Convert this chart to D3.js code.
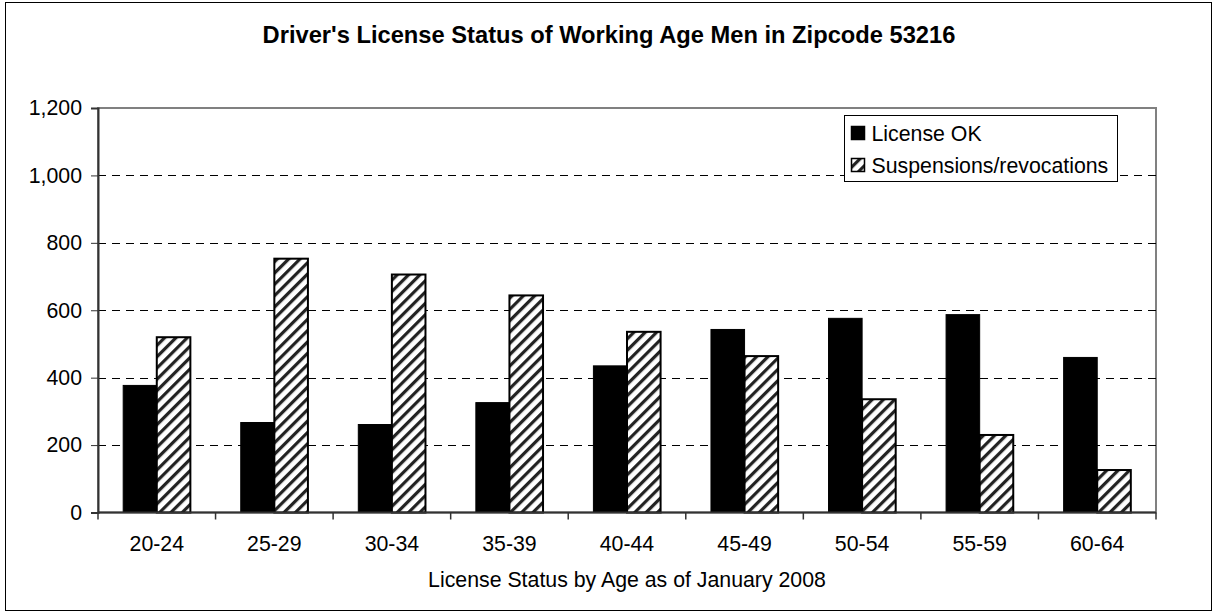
<!DOCTYPE html>
<html>
<head>
<meta charset="utf-8">
<script src="https://cdn.jsdelivr.net/npm/d3@7"></script>
<style>
  html, body { margin: 0; padding: 0; background: #fff; }
  svg { display: block; font-family: "Liberation Sans", Arial, sans-serif; }
</style>
</head>
<body>
<svg id="chart" width="1215" height="613"></svg>
<script>
  var ageGroups = ['20-24', '25-29', '30-34', '35-39', '40-44', '45-49', '50-54', '55-59', '60-64'];
  var licenseOk = [377, 267, 261, 326, 435, 543, 576, 587, 460];
  var suspensions = [520, 753, 706, 644, 536, 464, 336, 230, 126];
  var seriesNames = ['License OK', 'Suspensions/revocations'];
  var yTicks = [0, 200, 400, 600, 800, 1000, 1200];

  var svg = d3.select('#chart');
  var margin = { top: 108, right: 59, bottom: 100, left: 98 };
  var W = 1215, H = 613;
  var w = W - margin.left - margin.right;
  var h = 512.5 - margin.top;
  var fs = '21.3px';

  // hatch pattern for the second series
  var defs = svg.append('defs');
  var pat = defs.append('pattern')
    .attr('id', 'hatch')
    .attr('patternUnits', 'userSpaceOnUse')
    .attr('width', 8).attr('height', 8)
    .attr('patternTransform', 'rotate(45)');
  pat.append('rect').attr('width', 8).attr('height', 8).attr('fill', '#fff');
  pat.append('rect').attr('x', 0).attr('width', 3.2).attr('height', 8).attr('fill', '#222');

  // outer frame
  svg.append('rect')
    .attr('x', 5.5).attr('y', 2.5)
    .attr('width', W - 9).attr('height', H - 5)
    .attr('fill', '#fff').attr('stroke', '#000').attr('stroke-width', 1);

  svg.append('text')
    .attr('x', 609).attr('y', 43)
    .attr('text-anchor', 'middle')
    .style('font-size', '23.7px')
    .style('font-weight', 'bold')
    .text("Driver's License Status of Working Age Men in Zipcode 53216");

  var g = svg.append('g').attr('transform', 'translate(' + margin.left + ',' + margin.top + ')');

  var x0 = d3.scaleBand().domain(ageGroups).range([0, w]).paddingInner(0).paddingOuter(0);
  var barW = x0.bandwidth() / 3.5;
  var y = d3.scaleLinear().domain([0, 1200]).range([h, 0]);

  // plot border
  g.append('rect')
    .attr('x', 0).attr('y', 0).attr('width', w).attr('height', h)
    .attr('fill', 'none').attr('stroke', '#808080').attr('stroke-width', 2);

  // gridlines
  g.append('g').selectAll('line')
    .data(yTicks.filter(function (t) { return t > 0 && t < 1200; }))
    .enter().append('line')
    .attr('x1', 0).attr('x2', w)
    .attr('y1', function (d) { return Math.round(y(d)) + 0.5; })
    .attr('y2', function (d) { return Math.round(y(d)) + 0.5; })
    .attr('stroke', '#000').attr('stroke-width', 1)
    .attr('stroke-dasharray', '8,6');

  // bars
  ageGroups.forEach(function (grp, i) {
    var cx = x0(grp) + x0.bandwidth() / 2;
    g.append('rect')
      .attr('x', cx - barW).attr('y', y(licenseOk[i]))
      .attr('width', barW).attr('height', h - y(licenseOk[i]))
      .attr('fill', '#000').attr('stroke', '#000').attr('stroke-width', 1);
    g.append('rect')
      .attr('x', cx).attr('y', y(suspensions[i]))
      .attr('width', barW).attr('height', h - y(suspensions[i]))
      .attr('fill', 'url(#hatch)').attr('stroke', '#000').attr('stroke-width', 2);
  });

  // y axis
  var yAxis = g.append('g')
    .call(d3.axisLeft(y).tickValues(yTicks).tickSize(7).tickPadding(9).tickFormat(d3.format(',')));
  yAxis.select('.domain').attr('stroke', '#333').attr('stroke-width', 2);
  yAxis.selectAll('.tick line').attr('stroke', '#333');
  yAxis.selectAll('text').style('font-size', fs).attr('fill', '#000').style('font-family', 'Liberation Sans, Arial, sans-serif');

  // x axis with boundary ticks
  var xg = g.append('g').attr('transform', 'translate(0,' + h + ')');
  xg.append('line').attr('x1', 0).attr('x2', w).attr('stroke', '#333').attr('stroke-width', 2);
  var bounds = ageGroups.map(function (d) { return x0(d); }).concat([w]);
  xg.selectAll('.xt').data(bounds).enter().append('line')
    .attr('x1', function (d) { return d; }).attr('x2', function (d) { return d; })
    .attr('y1', 0).attr('y2', 7).attr('stroke', '#333').attr('stroke-width', 1.5);
  xg.selectAll('.xl').data(ageGroups).enter().append('text')
    .attr('x', function (d) { return x0(d) + x0.bandwidth() / 2; })
    .attr('y', 38)
    .attr('text-anchor', 'middle')
    .style('font-size', fs)
    .text(function (d) { return d; });

  svg.append('text')
    .attr('x', 627).attr('y', 587)
    .attr('text-anchor', 'middle')
    .style('font-size', fs)
    .text('License Status by Age as of January 2008');

  // legend
  var lg = svg.append('g').attr('transform', 'translate(844.5,115.5)');
  lg.append('rect').attr('width', 273).attr('height', 66)
    .attr('fill', '#fff').attr('stroke', '#000').attr('stroke-width', 1);
  var fills = ['#000', 'url(#hatch)'];
  seriesNames.forEach(function (name, i) {
    var yy = 18 + i * 32;
    lg.append('rect').attr('x', 7).attr('y', yy - 7).attr('width', 13).attr('height', 13)
      .attr('fill', fills[i]).attr('stroke', '#000').attr('stroke-width', 1.5);
    lg.append('text').attr('x', 27).attr('y', yy + 7)
      .style('font-size', fs)
      .text(name);
  });
</script>
</body>
</html>
